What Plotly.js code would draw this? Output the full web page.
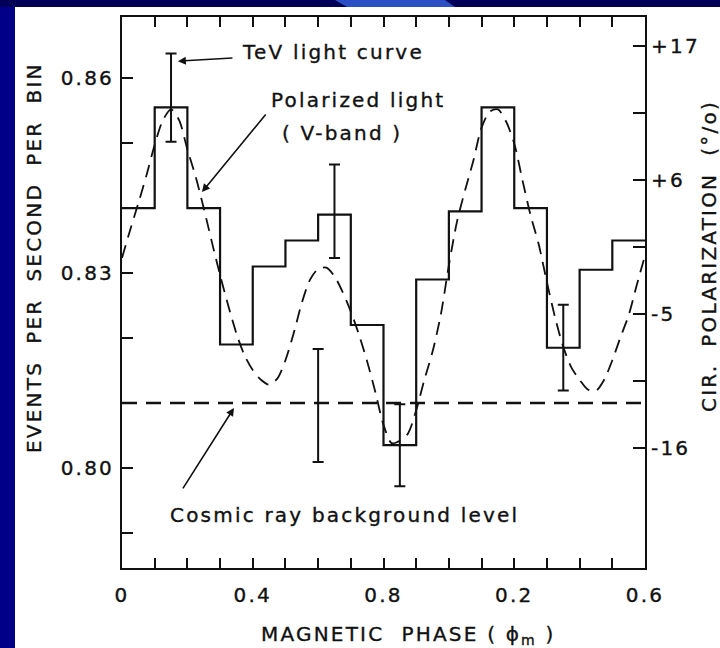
<!DOCTYPE html>
<html>
<head>
<meta charset="utf-8">
<script src="https://cdn.plot.ly/plotly-3.0.1.min.js"></script>
<style>
html, body { margin: 0; padding: 0; background: #000088; }
#chart { width: 720px; height: 648px; }
svg text { letter-spacing: 2.2px; stroke: #111; stroke-width: 0.35px; }
</style>
</head>
<body>
<div id="chart"></div>
<script>
// ---- Data ----
const binEdges = [0, 0.1, 0.2, 0.3, 0.4, 0.5, 0.6, 0.7, 0.8, 0.9, 1.0, 1.1, 1.2, 1.3, 1.4, 1.5, 1.6];
const tevRate = [0.840, 0.8555, 0.840, 0.819, 0.831, 0.835, 0.839, 0.822, 0.8035, 0.829, 0.8395, 0.8555, 0.840, 0.8185, 0.8305, 0.835];

const errPhase = [0.15, 0.6, 0.65, 0.85, 1.35];
const errRate = [0.857, 0.8096, 0.8395, 0.8035, 0.8185];
const errSize = [0.0068, 0.0087, 0.0072, 0.0063, 0.0066];

const bgPhase = [0, 1.6];
const bgRate = [0.81, 0.81];

const polPhase = [0.000, 0.025, 0.050, 0.075, 0.100, 0.125, 0.150, 0.175, 0.200, 0.225, 0.250, 0.275, 0.300, 0.325, 0.350, 0.375, 0.400, 0.425, 0.450, 0.475, 0.500, 0.525, 0.550, 0.575, 0.600, 0.625, 0.650, 0.675, 0.700, 0.725, 0.750, 0.775, 0.800, 0.825, 0.850, 0.875, 0.900, 0.925, 0.950, 0.975, 1.000, 1.025, 1.050, 1.075, 1.100, 1.125, 1.150, 1.175, 1.200, 1.225, 1.250, 1.275, 1.300, 1.325, 1.350, 1.375, 1.400, 1.425, 1.450, 1.475, 1.500, 1.525, 1.550, 1.575, 1.600];
const polValue = [-0.4, 1.9, 4.1, 6.4, 8.9, 10.9, 11.8, 10.9, 8.5, 6.3, 3.7, 0.9, -1.8, -4.3, -6.6, -8.4, -9.6, -10.4, -10.8, -10.3, -8.8, -6.6, -4.1, -2.2, -1.3, -1.2, -1.9, -3.2, -4.8, -6.7, -8.9, -11.4, -14.1, -15.6, -15.4, -14.8, -12.9, -10.4, -8.1, -5.1, -1.0, 2.6, 5.2, 7.6, 10.3, 11.6, 11.8, 10.8, 9.0, 6.0, 3.1, 0.7, -2.4, -5.3, -7.7, -9.4, -10.4, -11.2, -11.3, -10.4, -8.8, -6.9, -5.1, -2.6, -0.2];

const xTickVals = [0, 0.1, 0.2, 0.3, 0.4, 0.5, 0.6, 0.7, 0.8, 0.9, 1.0, 1.1, 1.2, 1.3, 1.4, 1.5, 1.6];
const xTickText = ['0', '', '', '', '0.4', '', '', '', '0.8', '', '', '', '0.2', '', '', '', '0.6'];
const yTickVals = [0.79, 0.80, 0.81, 0.82, 0.83, 0.84, 0.85, 0.86];
const yTickText = ['', '0.80', '', '', '0.83', '', '', '0.86'];
const y2TickVals = [17, 11.5, 6, 0.5, -5, -10.5, -16];
const y2TickText = ['+17', '', '+6', '', '-5', '', '-16'];

// ---- Layout helpers (pixel -> paper) ----
const M = {l: 122, r: 75, t: 17, b: 80};
const W = 720, H = 648;
const PW = W - M.l - M.r, PH = H - M.t - M.b;
const px = v => (v - M.l) / PW;
const py = v => (H - M.b - v) / PH;

const FONT = {family: 'DejaVu Sans, sans-serif', size: 20, color: '#111'};

const traces = [
  {
    x: binEdges, y: tevRate.concat([tevRate[tevRate.length - 1]]),
    mode: 'lines', line: {shape: 'hv', color: '#111', width: 2.2},
    hoverinfo: 'skip', showlegend: false
  },
  {
    x: errPhase, y: errRate, mode: 'markers',
    marker: {size: 1, color: 'rgba(0,0,0,0)'},
    error_y: {type: 'data', array: errSize, visible: true, color: '#111', thickness: 2, width: 5.5},
    hoverinfo: 'skip', showlegend: false
  },
  {
    x: bgPhase, y: bgRate, mode: 'lines',
    line: {color: '#111', width: 2.5, dash: '15px,9px'},
    hoverinfo: 'skip', showlegend: false
  },
  {
    x: polPhase, y: polValue, yaxis: 'y2', mode: 'lines',
    line: {color: '#111', width: 1.8, dash: '13px,8px', shape: 'spline', smoothing: 0.8},
    hoverinfo: 'skip', showlegend: false
  }
];

function txt(text, cx, cy, extra) {
  return Object.assign({
    text: text, xref: 'paper', yref: 'paper', x: px(cx), y: py(cy),
    xanchor: 'center', yanchor: 'middle', showarrow: false, font: FONT
  }, extra || {});
}
function arrow(tx, ty, sx, sy) {
  return {
    text: '', xref: 'x', yref: 'y', axref: 'x', ayref: 'y',
    x: tx, y: ty, ax: sx, ay: sy, showarrow: true,
    arrowhead: 2, arrowsize: 1, arrowwidth: 1.6, arrowcolor: '#111'
  };
}

const layout = {
  width: W, height: H,
  margin: M,
  paper_bgcolor: '#000088',
  plot_bgcolor: '#ffffff',
  showlegend: false,
  font: FONT,
  xaxis: {
    range: [0, 1.6], tickvals: xTickVals, ticktext: xTickText,
    ticks: 'inside', ticklen: 10, tickwidth: 2, tickcolor: '#111',
    showline: true, linewidth: 2, linecolor: '#111', mirror: 'ticks',
    showgrid: false, zeroline: false, tickfont: FONT, ticklabelstandoff: 8
  },
  yaxis: {
    range: [0.7846, 0.8694], tickvals: yTickVals, ticktext: yTickText,
    ticks: 'inside', ticklen: 11, tickwidth: 2, tickcolor: '#111',
    showline: true, linewidth: 2, linecolor: '#111',
    showgrid: false, zeroline: false, tickfont: FONT, ticklabelstandoff: 2
  },
  yaxis2: {
    overlaying: 'y', side: 'right',
    range: [-25.85, 19.38], tickvals: y2TickVals, ticktext: y2TickText,
    ticks: 'inside', ticklen: 12, tickwidth: 2, tickcolor: '#111',
    showline: true, linewidth: 2, linecolor: '#111',
    showgrid: false, zeroline: false, tickfont: FONT, ticklabelstandoff: 0
  },
  shapes: [
    {type: 'rect', xref: 'paper', yref: 'paper', layer: 'below',
     x0: px(15), x1: px(720), y0: py(648), y1: py(7),
     fillcolor: '#ffffff', line: {width: 0}},
    {type: 'rect', xref: 'paper', yref: 'paper', layer: 'below',
     x0: px(0), x1: px(720), y0: py(7), y1: py(0),
     fillcolor: '#000058', line: {width: 0}},
    {type: 'path', xref: 'paper', yref: 'paper', layer: 'below',
     path: 'M ' + px(335) + ',' + py(0) + ' L ' + px(347) + ',' + py(7) +
           ' L ' + px(455) + ',' + py(7) + ' L ' + px(445) + ',' + py(0) + ' Z',
     fillcolor: '#2d4fc4', line: {width: 0}}
  ],
  annotations: [
    txt('TeV light curve', 333, 52),
    txt('Polarized light', 358, 100),
    txt('( V-band )', 342, 133),
    txt('Cosmic ray background level', 344, 515),
    txt('MAGNETIC  PHASE ( ϕ<sub>m</sub> )', 408, 635),
    txt('EVENTS  PER  SECOND  PER  BIN', 34, 258, {textangle: -90}),
    txt('CIR.  POLARIZATION  (°/o)', 709, 256, {textangle: -90}),
    arrow(0.171, 0.8626, 0.3425, 0.8631),
    arrow(0.2446, 0.84246, 0.4434, 0.85462),
    arrow(0.3425, 0.80923, 0.1835, 0.79662)
  ]
};

Plotly.newPlot('chart', traces, layout, {displayModeBar: false, staticPlot: true});
</script>
</body>
</html>
